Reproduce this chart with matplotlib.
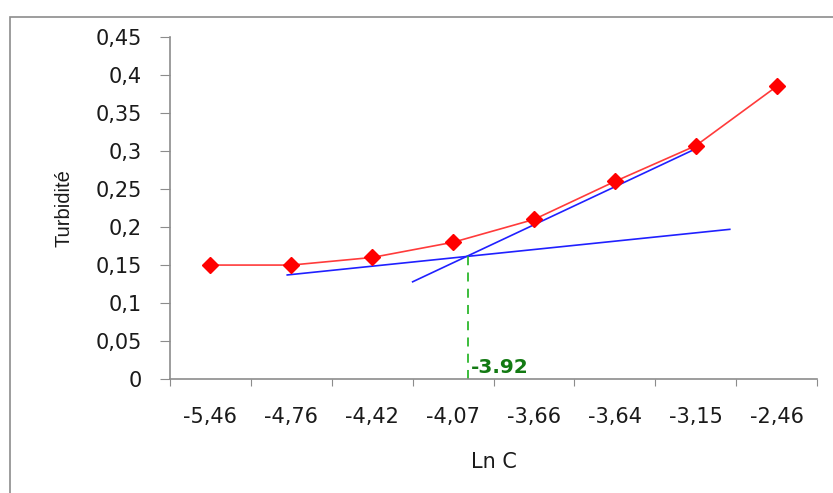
import matplotlib
matplotlib.use("Agg")
import matplotlib.pyplot as plt
import numpy as np
from matplotlib.patches import Rectangle

# Data
categories = ["-5,46", "-4,76", "-4,42", "-4,07", "-3,66", "-3,64", "-3,15", "-2,46"]
turbidity = [0.15, 0.15, 0.16, 0.18, 0.21, 0.26, 0.307, 0.385]

# tangent lines (category-index x, turbidity y)
tangent_low_x = [0.95, 6.42]
tangent_low_y = [0.137, 0.197]
tangent_high_x = [2.50, 6.02]
tangent_high_y = [0.128, 0.304]

cmc_x = 3.18
cmc_y = 0.162
cmc_label = "-3.92"

yticks = [0, 0.05, 0.1, 0.15, 0.2, 0.25, 0.3, 0.35, 0.4, 0.45]
ytick_labels = ["0", "0,05", "0,1", "0,15", "0,2", "0,25", "0,3", "0,35", "0,4", "0,45"]

plt.rcParams["font.family"] = ["DejaVu Sans"]

fig = plt.figure(figsize=(8.33, 4.93), dpi=100)
ax = fig.add_axes([0.204, 0.231, 0.777, 0.694])

# outer chart border
fig.patches.append(Rectangle((10 / 833, -0.1), 1.1, 1 - 17 / 493 + 0.1,
                             transform=fig.transFigure, fill=False,
                             edgecolor="#8c8c8c", linewidth=1.2))

xs = np.arange(len(categories))
ax.plot(xs, turbidity, "-", color="#ff3b3b", linewidth=1.2, zorder=3)
ax.plot(xs, turbidity, "D", color="#ff0000", markersize=8.5, zorder=4)
ax.plot(tangent_low_x, tangent_low_y, "-", color="#2020ff", linewidth=1.2, zorder=2)
ax.plot(tangent_high_x, tangent_high_y, "-", color="#2020ff", linewidth=1.2, zorder=2)
ax.plot([cmc_x, cmc_x], [0, cmc_y], "--", color="#2db82d", linewidth=1.3,
        dashes=(5, 4), zorder=2, clip_on=False)
ax.text(cmc_x + 0.04, 0.003, cmc_label, color="#137a13", fontsize=14.5,
        fontweight="bold", ha="left", va="bottom")

ax.set_xlim(-0.5, len(categories) - 0.5)
ax.set_ylim(0, 0.45)

ax.set_yticks(yticks)
ax.set_yticklabels(ytick_labels, fontsize=15, color="#1a1a1a")
ax.set_xticks(np.arange(len(categories) + 1) - 0.5)
ax.set_xticklabels([])
ax.set_xticks(xs, minor=True)
ax.set_xticklabels(categories, minor=True, fontsize=15, color="#1a1a1a")
ax.tick_params(axis="x", which="minor", length=0, pad=20)
ax.tick_params(axis="x", which="major", length=5, color="#8c8c8c", direction="out")
ax.tick_params(axis="y", length=7, color="#8c8c8c", direction="out", pad=13)

for s in ["top", "right"]:
    ax.spines[s].set_visible(False)
for s in ["left", "bottom"]:
    ax.spines[s].set_color("#8c8c8c")
    ax.spines[s].set_linewidth(1.2)

ax.set_xlabel("Ln C", fontsize=15, color="#1a1a1a", labelpad=18)
ax.set_ylabel("Turbidité", fontsize=14.5, color="#1a1a1a", labelpad=16,
              family="Liberation Sans")

fig.savefig("out.png", dpi=100)
